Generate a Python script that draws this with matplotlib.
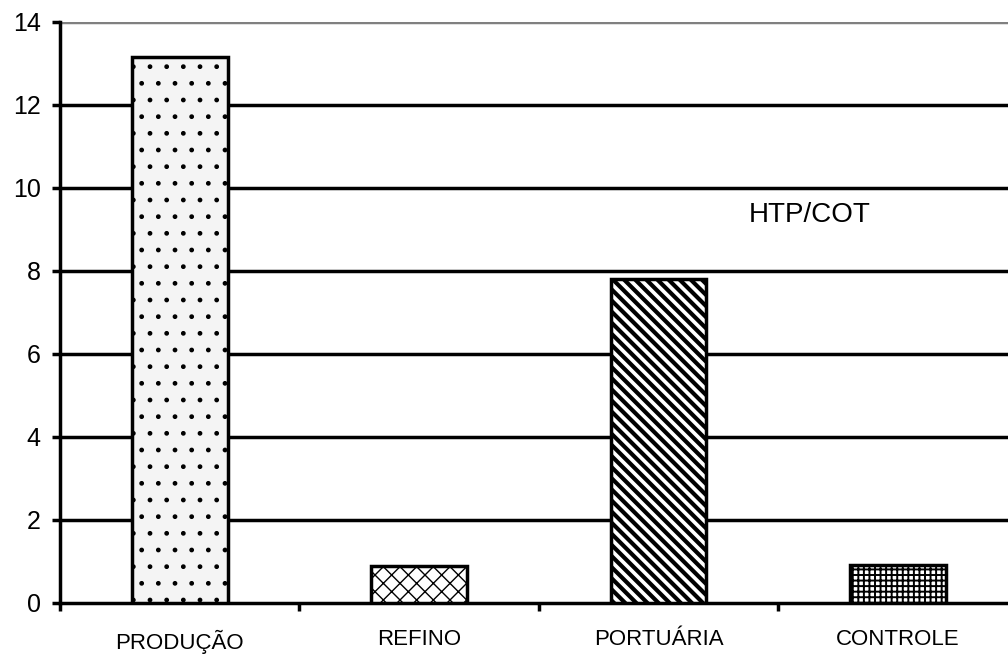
import matplotlib
matplotlib.use("Agg")
import matplotlib.pyplot as plt
import numpy as np

# Datos
categorias = ["PRODUÇÃO", "REFINO", "PORTUÁRIA", "CONTROLE"]
valores = [13.15, 0.9, 7.8, 0.92]
rayados = [".", "xx", "\\\\\\", "+++"]
grosor_rayado = [1.0, 1.0, 3.0, 1.4]
yticks = [0, 2, 4, 6, 8, 10, 12, 14]

plt.rcParams["font.family"] = ["Liberation Sans", "DejaVu Sans"]

fig = plt.figure(figsize=(10.08, 6.58), dpi=100)
ax = fig.add_axes([0.0595, 0.0836, 0.9405, 0.883])

x = np.arange(len(categorias))
for i in range(len(categorias)):
    plt.rcParams["hatch.linewidth"] = grosor_rayado[i]
    ax.bar(x[i], valores[i], width=0.4, color="#f4f4f4" if i == 0 else "white",
           edgecolor="black", linewidth=2.5, hatch=rayados[i], zorder=3)

ax.set_xlim(-0.49, 3.46)
ax.set_ylim(0, 14)
ax.set_yticks(yticks)
ax.set_yticklabels([str(v) for v in yticks], fontsize=18)
ax.set_xticks(x)
ax.set_xticklabels(categorias, fontsize=16)
ax.tick_params(axis="x", length=0, pad=19)
ax.set_xticks(np.arange(-0.5, 3.5, 1.0), minor=True)
ax.tick_params(axis="x", which="minor", length=6, width=2.5, direction="out")
ax.tick_params(axis="y", length=6, width=2.5, direction="out", pad=8)

for v in yticks[1:-1]:
    ax.axhline(v, color="black", linewidth=2.5, zorder=1)
ax.axhline(14, color="#808080", linewidth=2.5, zorder=1)

ax.spines["top"].set_visible(False)
ax.spines["right"].set_visible(False)
ax.spines["left"].set_linewidth(2.5)
ax.spines["bottom"].set_linewidth(2.5)

ax.text(2.63, 9.35, "HTP/COT", fontsize=20, ha="center", va="center")

fig.savefig("out.png", dpi=100)
